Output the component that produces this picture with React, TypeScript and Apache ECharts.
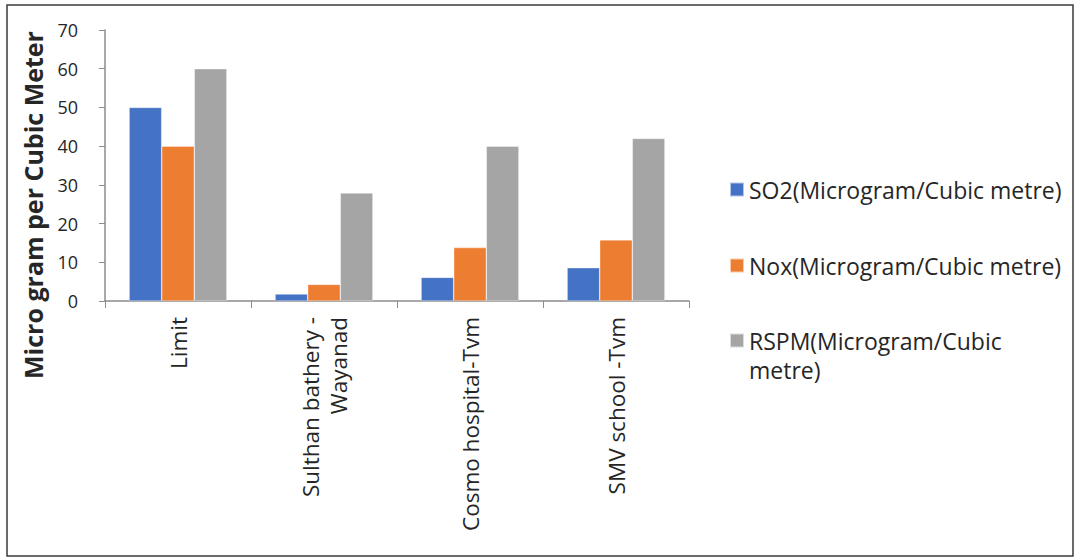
import React, { useEffect, useRef } from "react";
import * as echarts from "echarts";

const categories = ["Limit", "Sulthan bathery -\nWayanad", "Cosmo hospital-Tvm", "SMV school -Tvm"];
const seriesNames = [
  "SO2(Microgram/Cubic metre)",
  "Nox(Microgram/Cubic metre)",
  "RSPM(Microgram/Cubic metre)",
];
const so2Values = [50, 1.8, 6.1, 8.6];
const noxValues = [40, 4.3, 13.8, 15.8];
const rspmValues = [60, 27.9, 40, 42];
const colors = ["#4472C4", "#ED7D31", "#A5A5A5"];
const yTicks = { min: 0, max: 70, interval: 10 };
const yTitle = "Micro gram per Cubic Meter";

const FONT = "'Open Sans', Lato, sans-serif";
const TEXT = "#262626";

export default function App() {
  const ref = useRef<HTMLDivElement>(null);
  useEffect(() => {
    if (!ref.current) return;
    const chart = echarts.init(ref.current, undefined, { renderer: "svg" });
    const values = [so2Values, noxValues, rspmValues];
    chart.setOption({
      animation: false,
      backgroundColor: "#ffffff",
      textStyle: { fontFamily: FONT, color: TEXT },
      grid: { left: 105, right: 391, top: 30, bottom: 257, containLabel: false },
      legend: [
        {
          data: [seriesNames[0], seriesNames[1]],
          orient: "vertical",
          left: 724,
          top: 170,
          itemWidth: 14,
          itemHeight: 14,
          itemGap: 47,
          icon: "rect",
          padding: 5,
          textStyle: { fontSize: 23, color: TEXT, fontFamily: FONT, lineHeight: 29 },
        },
        {
          data: [seriesNames[2]],
          orient: "vertical",
          left: 724,
          top: 292,
          itemWidth: 14,
          itemHeight: 14,
          icon: "rect",
          padding: 5,
          formatter: (n: string) => (n === seriesNames[2] ? "\nRSPM(Microgram/Cubic\nmetre)" : n),
          textStyle: { fontSize: 23, color: TEXT, fontFamily: FONT, lineHeight: 29 },
        },
      ],
      xAxis: {
        type: "category",
        data: categories,
        axisLine: { show: true, lineStyle: { color: "#8c8c8c", width: 1.5 } },
        axisTick: { show: true, length: 7, alignWithLabel: false, lineStyle: { color: "#8c8c8c", width: 1 } },
        axisLabel: {
          interval: 0,
          rotate: 90,
          margin: 16,
          fontSize: 22.5,
          lineHeight: 28,
          color: TEXT,
          fontFamily: FONT,
        },
      },
      yAxis: {
        type: "value",
        min: yTicks.min,
        max: yTicks.max,
        interval: yTicks.interval,
        axisLine: { show: true, lineStyle: { color: "#8c8c8c", width: 1.5 } },
        axisTick: { show: true, length: 6, lineStyle: { color: "#8c8c8c" } },
        splitLine: { show: false },
        axisLabel: { fontSize: 18, color: TEXT, fontFamily: FONT, margin: 27 },
      },
      graphic: [
        {
          type: "rect",
          shape: { x: 7, y: 5, width: 1066, height: 551 },
          style: { fill: "none", stroke: "#3a3a3a", lineWidth: 1.5 },
          silent: true,
        },
        {
          type: "text",
          x: 33,
          y: 205,
          rotation: Math.PI / 2,
          style: {
            text: yTitle,
            font: `bold 25px ${FONT}`,
            fill: TEXT,
            align: "center",
            verticalAlign: "middle",
          },
        },
      ],
      series: seriesNames.map((name, i) => ({
        name,
        type: "bar",
        data: values[i],
        barGap: "0%",
        barCategoryGap: "33%",
        itemStyle: { color: colors[i], borderColor: "rgba(255,255,255,0.6)", borderWidth: 0.6 },
      })),
    });
    return () => chart.dispose();
  }, []);
  return <div ref={ref} style={{ position: "fixed", left: 0, top: 0, width: 1080, height: 558 }} />;
}
